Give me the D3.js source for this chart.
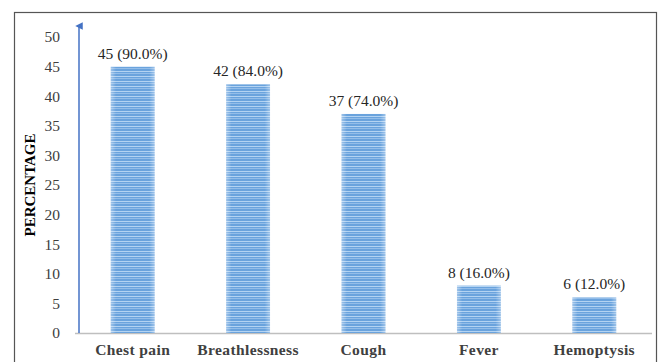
<!DOCTYPE html>
<html>
<head>
<meta charset="utf-8">
<script src="https://cdn.jsdelivr.net/npm/d3@7"></script>
<style>
  body { margin: 0; background: #fff; }
  svg { display: block; font-family: "Liberation Serif", "Times New Roman", serif; }
</style>
</head>
<body>
<script>
// chart data
const categories = ["Chest pain", "Breathlessness", "Cough", "Fever", "Hemoptysis"];
const counts = [45, 42, 37, 8, 6];
const percents = ["90.0%", "84.0%", "74.0%", "16.0%", "12.0%"];
const yTicks = [0, 5, 10, 15, 20, 25, 30, 35, 40, 45, 50];

const width = 660;
const height = 362;
const margin = {top: 37, right: 6, bottom: 29, left: 75};

const svg = d3.select("body").append("svg")
    .attr("width", width)
    .attr("height", height);

// striped fill like the original
const defs = svg.append("defs");
const pat = defs.append("pattern")
    .attr("id", "stripes")
    .attr("patternUnits", "userSpaceOnUse")
    .attr("width", 10)
    .attr("height", 5);
pat.append("rect").attr("width", 10).attr("height", 5).attr("fill", "#6aa3dd");
pat.append("rect").attr("y", 1).attr("width", 10).attr("height", 1).attr("fill", "#b3d3f2");
pat.append("rect").attr("y", 3).attr("width", 10).attr("height", 1).attr("fill", "#93bde9");

// light edges on the bars
const grad = defs.append("linearGradient")
    .attr("id", "edge")
    .attr("x1", "0").attr("x2", "1").attr("y1", "0").attr("y2", "0");
grad.append("stop").attr("offset", "0").attr("stop-color", "#fff").attr("stop-opacity", 0.35);
grad.append("stop").attr("offset", "0.12").attr("stop-color", "#fff").attr("stop-opacity", 0);
grad.append("stop").attr("offset", "0.88").attr("stop-color", "#fff").attr("stop-opacity", 0);
grad.append("stop").attr("offset", "1").attr("stop-color", "#fff").attr("stop-opacity", 0.35);

// outer frame
svg.append("rect")
    .attr("x", 14.5).attr("y", 12.5)
    .attr("width", 642).attr("height", 360)
    .attr("fill", "none")
    .attr("stroke", "#555")
    .attr("stroke-width", 1.2);

const xscale = d3.scaleBand()
    .domain(categories)
    .range([margin.left, width - margin.right - 2])
    .paddingInner(0.62)
    .paddingOuter(0.31);

const yscale = d3.scaleLinear()
    .domain([0, 50])
    .range([height - margin.bottom, margin.top]);

// baseline
svg.append("line")
    .attr("x1", margin.left).attr("x2", 652)
    .attr("y1", yscale(0) + 0.5).attr("y2", yscale(0) + 0.5)
    .attr("stroke", "#bfbfbf").attr("stroke-width", 1.5);

// y axis (blue arrow)
const yaxis = d3.axisLeft(yscale).tickValues(yTicks).tickSize(0).tickPadding(19);
const yg = svg.append("g")
    .attr("transform", `translate(79,0)`)
    .call(yaxis);
yg.select(".domain").remove();
yg.selectAll("text")
    .attr("font-size", 15.5)
    .attr("fill", "#404040")
    .attr("font-family", "Liberation Serif, serif");

defs.append("marker")
    .attr("id", "arrow")
    .attr("viewBox", "0 0 10 10")
    .attr("refX", 5).attr("refY", 5)
    .attr("markerWidth", 5).attr("markerHeight", 5)
    .attr("orient", "auto")
    .append("path")
    .attr("d", "M0,10 L5,0 L10,10 Z")
    .attr("fill", "#4472c4");

svg.append("line")
    .attr("x1", 79).attr("x2", 79)
    .attr("y1", yscale(0)).attr("y2", 26)
    .attr("stroke", "#4472c4").attr("stroke-width", 1.5)
    .attr("marker-end", "url(#arrow)");

// y title
svg.append("text")
    .attr("transform", `translate(35, ${(yscale(0) + yscale(50)) / 2}) rotate(-90)`)
    .attr("text-anchor", "middle")
    .attr("font-size", 15)
    .attr("font-weight", "bold")
    .attr("fill", "#000")
    .text("PERCENTAGE");

// bars
const data = categories.map((c, i) => ({cat: c, value: counts[i], pct: percents[i]}));

const bars = svg.selectAll(".bar")
    .data(data)
    .enter()
    .append("g")
    .attr("class", "bar");
bars.append("rect")
    .attr("x", d => xscale(d.cat))
    .attr("y", d => yscale(d.value))
    .attr("width", xscale.bandwidth())
    .attr("height", d => yscale(0) - yscale(d.value))
    .attr("fill", "url(#stripes)");
bars.append("rect")
    .attr("x", d => xscale(d.cat))
    .attr("y", d => yscale(d.value))
    .attr("width", xscale.bandwidth())
    .attr("height", d => yscale(0) - yscale(d.value))
    .attr("fill", "url(#edge)");

// value labels
svg.selectAll(".lbl")
    .data(data)
    .enter()
    .append("text")
    .attr("class", "lbl")
    .attr("x", d => xscale(d.cat) + xscale.bandwidth() / 2)
    .attr("y", d => yscale(d.value) - 8)
    .attr("text-anchor", "middle")
    .attr("font-size", 15.5)
    .attr("fill", "#262626")
    .text(d => `${d.value} (${d.pct})`);

// x axis labels
const xaxis = d3.axisBottom(xscale).tickSize(0).tickPadding(11);
const xg = svg.append("g")
    .attr("transform", `translate(0, ${yscale(0)})`)
    .call(xaxis);
xg.select(".domain").remove();
xg.selectAll("text")
    .attr("font-size", 15.5)
    .attr("font-weight", "bold")
    .attr("letter-spacing", 0.4)
    .attr("fill", "#404040")
    .attr("font-family", "Liberation Serif, serif");
</script>
</body>
</html>
